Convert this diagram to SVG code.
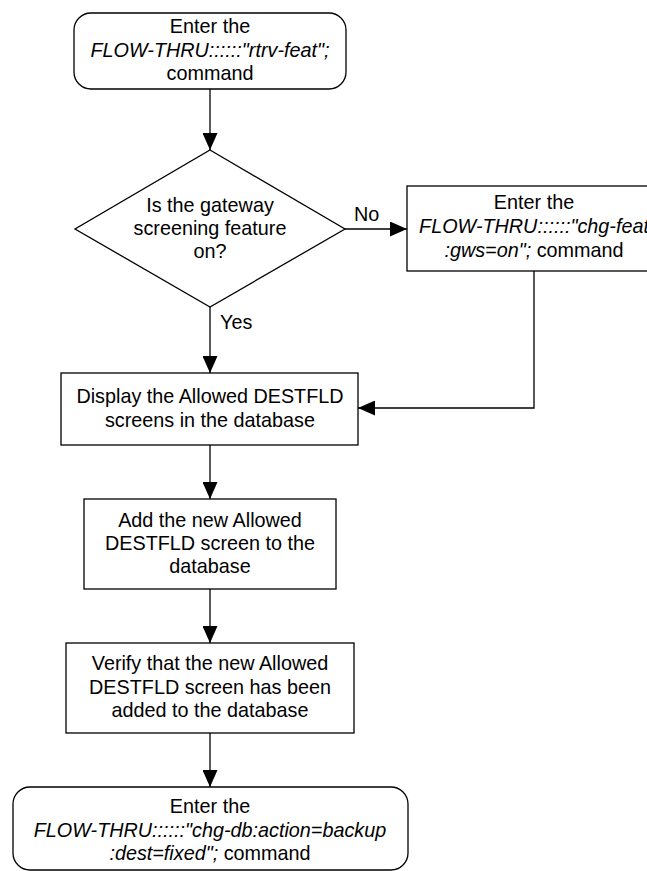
<svg xmlns="http://www.w3.org/2000/svg" width="647" height="871" viewBox="0 0 647 871">
<style>
.s{fill:#fff;stroke:#000;stroke-width:1.3}
.c{fill:none;stroke:#000;stroke-width:1.3}
text{font-family:"Liberation Sans",Arial,sans-serif;font-size:19.8px;fill:#000}
.m{text-anchor:middle}
.i{font-style:italic}
</style>
<defs>
<marker id="ah" markerWidth="17" markerHeight="15" refX="17" refY="7.5" orient="auto" markerUnits="userSpaceOnUse">
<path d="M0,0 L17,7.5 L0,15 Z" fill="#000"/>
</marker>
</defs>
<rect width="647" height="871" fill="#fff"/>
<g id="connectors">
<line class="c" x1="210" y1="89" x2="210" y2="150" marker-end="url(#ah)"/>
<line class="c" x1="345" y1="229" x2="407" y2="229" marker-end="url(#ah)"/>
<line class="c" x1="210" y1="307" x2="210" y2="373" marker-end="url(#ah)"/>
<polyline class="c" points="534,271 534,408 358,408" marker-end="url(#ah)"/>
<line class="c" x1="210" y1="445" x2="210" y2="499" marker-end="url(#ah)"/>
<line class="c" x1="210" y1="589" x2="210" y2="643" marker-end="url(#ah)"/>
<line class="c" x1="210" y1="733" x2="210" y2="787" marker-end="url(#ah)"/>
<text x="354" y="221">No</text>
<text x="220" y="329">Yes</text>
</g>
<g id="start">
<rect class="s" x="74" y="13" width="272" height="76" rx="17" ry="17"/>
<text class="m" x="210" y="33">Enter the</text>
<text class="m i" x="210" y="57">FLOW-THRU::::::"rtrv-feat";</text>
<text class="m" x="210" y="80">command</text>
</g>
<g id="decision">
<polygon class="s" points="210,150 345,229 210,307 75,229"/>
<text class="m" x="210" y="212">Is the gateway</text>
<text class="m" x="210" y="235">screening feature</text>
<text class="m" x="210" y="258">on?</text>
</g>
<g id="chgfeat">
<rect class="s" x="407" y="186" width="254" height="85"/>
<text class="m" x="534" y="209">Enter the</text>
<text class="m i" x="534" y="233">FLOW-THRU::::::"chg-feat</text>
<text class="m" x="534" y="257"><tspan class="i">:gws=on";</tspan> command</text>
</g>
<g id="display">
<rect class="s" x="61" y="373" width="297" height="72"/>
<text class="m" x="210" y="403">Display the Allowed DESTFLD</text>
<text class="m" x="210" y="427">screens in the database</text>
</g>
<g id="add">
<rect class="s" x="84" y="499" width="252" height="90"/>
<text class="m" x="210" y="527">Add the new Allowed</text>
<text class="m" x="210" y="550">DESTFLD screen to the</text>
<text class="m" x="210" y="573">database</text>
</g>
<g id="verify">
<rect class="s" x="66" y="643" width="288" height="90"/>
<text class="m" x="210" y="670">Verify that the new Allowed</text>
<text class="m" x="210" y="694">DESTFLD screen has been</text>
<text class="m" x="210" y="717">added to the database</text>
</g>
<g id="end">
<rect class="s" x="13" y="787" width="395" height="83" rx="17" ry="17"/>
<text class="m" x="210" y="813">Enter the</text>
<text class="m i" x="210" y="837">FLOW-THRU::::::"chg-db:action=backup</text>
<text class="m" x="210" y="860"><tspan class="i">:dest=fixed";</tspan> command</text>
</g>
</svg>
